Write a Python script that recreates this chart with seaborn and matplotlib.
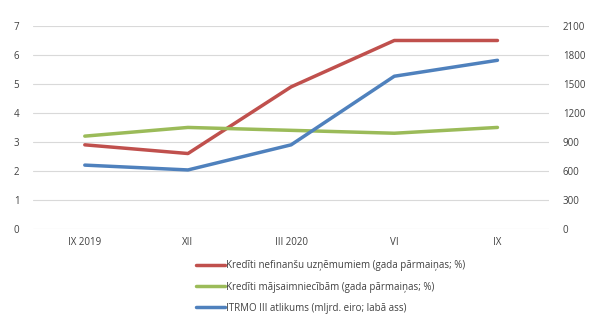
import matplotlib
matplotlib.use("Agg")
import matplotlib.pyplot as plt
import pandas as pd
import seaborn as sns

periods = ["IX 2019", "XII", "III 2020", "VI", "IX"]
corporate_loans = [2.9, 2.6, 4.9, 6.5, 6.5]
household_loans = [3.2, 3.5, 3.4, 3.3, 3.5]
tltro_balance = [660, 610, 870, 1580, 1745]

labels = [
    "Kredīti nefinanšu uzņēmumiem (gada pārmaiņas; %)",
    "Kredīti mājsaimniecībām (gada pārmaiņas; %)",
    "ITRMO III atlikums (mljrd. eiro; labā ass)",
]
colors = ["#c0504d", "#9bbb59", "#4f81bd"]

sns.set_theme(style="white")
plt.rcParams["font.family"] = ["Open Sans", "DejaVu Sans"]

df = pd.DataFrame({
    "x": range(len(periods)),
    "corp": corporate_loans,
    "hh": household_loans,
    "tltro": tltro_balance,
})

fig = plt.figure(figsize=(6.04, 3.21), dpi=100)
ax = fig.add_axes([0.055, 0.287, 0.854, 0.632])
ax2 = ax.twinx()

sns.lineplot(data=df, x="x", y="corp", ax=ax, color=colors[0], linewidth=2.5, label=labels[0], legend=False)
sns.lineplot(data=df, x="x", y="hh", ax=ax, color=colors[1], linewidth=2.5, label=labels[1], legend=False)
sns.lineplot(data=df, x="x", y="tltro", ax=ax2, color=colors[2], linewidth=2.5, label=labels[2], legend=False)

ax.set_xlim(-0.5, len(periods) - 0.5)
ax.set_ylim(0, 7)
ax2.set_ylim(0, 2100)
ax.set_yticks(range(0, 8))
ax2.set_yticks(range(0, 2101, 300))
ax.set_xticks(range(len(periods)))
ax.set_xticklabels(periods)
ax.set_xlabel("")
ax.set_ylabel("")
ax2.set_ylabel("")

ax.grid(axis="y", color="#d9d9d9", linewidth=0.8)
ax.set_axisbelow(True)
for a in (ax, ax2):
    for s in a.spines.values():
        s.set_visible(False)
    a.tick_params(axis="both", length=0, labelsize=7, colors="#404040")
ax.tick_params(axis="y", pad=10)
ax2.tick_params(axis="y", pad=10)
ax.tick_params(axis="x", pad=6)

handles = ax.get_lines()[:2] + ax2.get_lines()[:1]
fig.legend(handles, labels, loc="lower left", bbox_to_anchor=(0.31, -0.005),
           frameon=False, fontsize=7, handlelength=3.0, handletextpad=0.1,
           labelspacing=1.05, labelcolor="#404040")

fig.savefig("out.png", dpi=100)
